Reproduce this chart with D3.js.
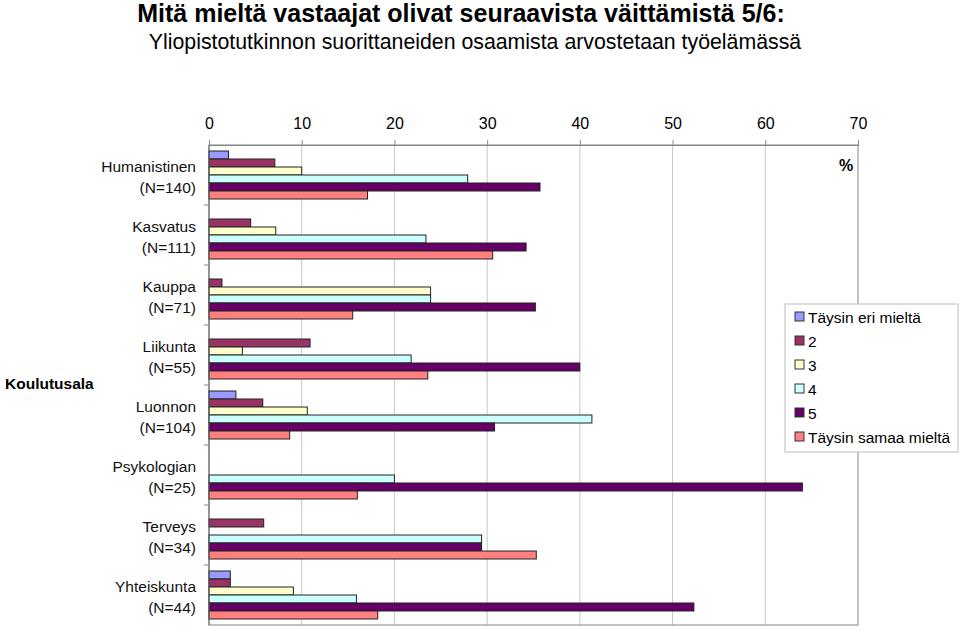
<!DOCTYPE html>
<html><head><meta charset="utf-8">
<script src="https://cdn.jsdelivr.net/npm/d3@7"></script>
<style>body{margin:0;background:#fff;} svg{display:block;font-family:"Liberation Sans",Arial,sans-serif;}</style>
</head><body>
<svg id="c" width="960" height="627"></svg>
<script>
const categories = ["Humanistinen|(N=140)","Kasvatus|(N=111)","Kauppa|(N=71)","Liikunta|(N=55)","Luonnon|(N=104)","Psykologian|(N=25)","Terveys|(N=34)","Yhteiskunta|(N=44)"];
const seriesNames = ["Täysin eri mieltä","2","3","4","5","Täysin samaa mieltä"];
const seriesColors = ["#9999ff","#993366","#ffffcc","#ccffff","#660066","#ff8080"];
const s1 = [2.1, 0, 0, 0, 2.9, 0, 0, 2.3];
const s2 = [7.1, 4.5, 1.4, 10.9, 5.8, 0, 5.9, 2.3];
const s3 = [10.0, 7.2, 23.9, 3.6, 10.6, 0, 0, 9.1];
const s4 = [27.9, 23.4, 23.9, 21.8, 41.3, 20.0, 29.4, 15.9];
const s5 = [35.7, 34.2, 35.2, 40.0, 30.8, 64.0, 29.4, 52.3];
const s6 = [17.1, 30.6, 15.5, 23.6, 8.7, 16.0, 35.3, 18.2];
const tickValues = [0,10,20,30,40,50,60,70];
const series = [s1,s2,s3,s4,s5,s6];

const svg = d3.select("#c");
const L=209, R=858, T=145, B=625;
const FS = 15.5;
const x = d3.scaleLinear().domain([0,70]).range([L,R]);
const y = d3.scaleBand().domain(categories).range([T,B]).paddingInner(0.2).paddingOuter(0.1);
const ySub = d3.scaleBand().domain(d3.range(6)).range([0,y.bandwidth()]);
const yOuter = d3.scaleBand().domain(categories).range([T,B]);

svg.append("text").attr("x",461).attr("y",22).attr("text-anchor","middle")
  .attr("font-size",25).attr("font-weight","bold").text("Mitä mieltä vastaajat olivat seuraavista väittämistä 5/6:");
svg.append("text").attr("x",475).attr("y",49).attr("text-anchor","middle")
  .attr("font-size",21.3).text("Yliopistotutkinnon suorittaneiden osaamista arvostetaan työelämässä");

// gridlines
svg.append("g").selectAll("line").data(tickValues.slice(1,-1)).join("line")
  .attr("x1",d=>x(d)).attr("x2",d=>x(d)).attr("y1",T).attr("y2",B)
  .attr("stroke","#c8c8c8").attr("stroke-width",1);
// frame
svg.append("rect").attr("x",L).attr("y",T).attr("width",R-L).attr("height",B-T)
  .attr("fill","none").attr("stroke","#999").attr("stroke-width",1.2);

// top axis
const ax = svg.append("g").attr("transform",`translate(0,${T})`)
  .call(d3.axisTop(x).tickValues(tickValues).tickSize(5).tickPadding(11));
ax.select(".domain").attr("stroke","#888");
ax.selectAll(".tick line").attr("stroke","#888");
ax.selectAll("text").attr("font-size",16).attr("fill","#000").style("font-family","Liberation Sans, Arial, sans-serif");

// bars
const g = svg.append("g");
series.forEach((vals,si)=>{
  g.selectAll(null).data(vals.map((v,i)=>({v,c:categories[i]}))).join("rect")
    .filter(d=>d.v>0)
    .attr("x",x(0)).attr("y",d=>y(d.c)+ySub(si)).attr("width",d=>x(d.v)-x(0))
    .attr("height",ySub.bandwidth())
    .attr("fill",seriesColors[si]).attr("stroke","#222").attr("stroke-width",1);
});

// left axis
const ay = svg.append("g").attr("transform",`translate(${L},0)`);
ay.append("line").attr("x1",0).attr("x2",0).attr("y1",T).attr("y2",B).attr("stroke","#666");
ay.selectAll("line.t").data(categories.slice(1)).join("line").attr("class","t")
  .attr("x1",-5).attr("x2",0).attr("y1",d=>yOuter(d)).attr("y2",d=>yOuter(d)).attr("stroke","#888");
const lbl = svg.append("g").selectAll("text").data(categories).join("text")
  .attr("x",196).attr("text-anchor","end").attr("font-size",FS).attr("fill","#111");
lbl.each(function(d){
  const parts=d.split("|"); const cy=yOuter(d)+yOuter.bandwidth()/2;
  d3.select(this).append("tspan").attr("x",196).attr("y",cy-3.5).text(parts[0]);
  d3.select(this).append("tspan").attr("x",196).attr("y",cy+17.5).text(parts[1]);
});

svg.append("text").attr("x",5).attr("y",389).attr("font-size",FS).attr("font-weight","bold").text("Koulutusala");
svg.append("text").attr("x",846).attr("y",171).attr("text-anchor","middle").attr("font-size",16).attr("font-weight","bold").text("%");

// legend
const lg = svg.append("g");
lg.append("rect").attr("x",785).attr("y",304).attr("width",173).attr("height",148)
  .attr("fill","#fff").attr("stroke","#bbb");
const items = lg.selectAll("g").data(seriesNames).join("g")
  .attr("transform",(d,i)=>`translate(795,${317+i*24})`);
items.append("rect").attr("x",0).attr("y",-5).attr("width",9).attr("height",9)
  .attr("fill",(d,i)=>seriesColors[i]).attr("stroke","#333");
items.append("text").attr("x",13).attr("y",5.5).attr("font-size",FS).text(d=>d);
</script>
</body></html>
